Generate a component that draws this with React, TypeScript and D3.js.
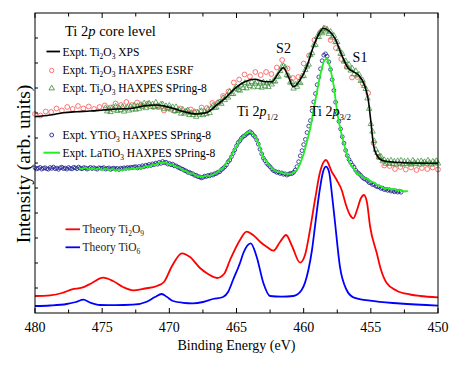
import * as d3 from "d3";

const width = 463;
const height = 367;
const margin = { top: 13, right: 25, bottom: 54, left: 35 };

// binding energy axis
const xDomain: [number, number] = [480, 450];
const xTickLabels = [480, 475, 470, 465, 460, 455, 450];

// Expt. Ti2O3 XPS (line) [eV, intensity]
const xpsTi2O3: [number, number][] = [
  [480, 196.3], [478.88, 198], [477.89, 200.3], [476.9, 201.3], [475.91, 202],
  [474.92, 203], [473.92, 204], [472.93, 204.5], [471.94, 207], [470.94, 208],
  [469.95, 205.5], [468.96, 201.5], [467.96, 199], [467.22, 200.5], [466.47, 208],
  [465.86, 214.7], [465.11, 224.7], [464.37, 231.3], [463.62, 233.7], [462.88, 231.3],
  [462.38, 231.3], [461.89, 239.7], [461.52, 245.3], [461.14, 236.3], [460.77, 226.3],
  [460.27, 233], [459.77, 246.3], [459.28, 266.3], [458.91, 278], [458.54, 284.7],
  [458.04, 281.3], [457.67, 274.7], [457.17, 258], [456.68, 244.7], [456.3, 241.3],
  [455.93, 238], [455.43, 226.3], [455.19, 213], [455.01, 193], [454.82, 169.7],
  [454.56, 158], [454.07, 152.3], [452.58, 150.3], [450, 149.7],
];

// Expt. Ti2O3 HAXPES ESRF (open circles), 480 eV downward in 0.4 eV steps
const esrfStart = 480;
const esrfStep = 0.4;
const esrfTi2O3 = [
  199, 197.5, 201.5, 201, 204.5, 202.5, 206, 204, 207, 204.5,
  206.5, 204, 206, 207.5, 205.5, 209.5, 208, 211, 208, 210.5,
  207.5, 209.5, 206, 206.5, 202.5, 205, 202, 204.5, 201.5, 203.5,
  201, 205.5, 205, 210, 210, 217, 221.5, 230.5, 233.5, 238.5,
  236.5, 241, 238, 241, 239, 245.5, 253, 244.5, 235, 236,
  249.5, 257.5, 273, 280, 284.5, 273, 265, 254, 246, 235.5,
  236, 229.5, 220, 170, 156, 147.5, 147, 144, 146, 143.5,
  145.5, 143, 145, 144, 145.5, 143.5,
];

// Expt. Ti2O3 HAXPES SPring-8 (open triangles), from 474.75 eV in 0.125 eV steps
const spring8Start = 474.75;
const spring8Step = 0.125;
const spring8Ti2O3 = [
  205, 201.7, 203.8, 201, 205.2, 203.4, 206.5, 202, 205, 203,
  206, 201.5, 204.5, 205.5, 202.5, 206.3, 203.6, 207.5, 203.4, 206.9,
  204.3, 208.3, 206.2, 209.8, 204.9, 208, 209.6, 206.2, 208.8, 205.9,
  210.5, 207.3, 205.5, 208.7, 208.8, 203.9, 207, 204.7, 207.4, 203.5,
  206, 202, 206, 202, 202.9, 199.4, 203.4, 199.5, 201.7, 202.8,
  198, 200.2, 198, 201.1, 196.3, 200.6, 198.4, 202.1, 197.9, 201.2,
  199, 203.5, 200, 204.8, 207.5, 205.3, 205.5, 210.4, 210.8, 209.2,
  215, 213, 217, 215.5, 221.5, 219.3, 219, 224.2, 225.8, 223.1,
  222.4, 227.7, 225, 230.1, 224.7, 229.4, 227, 231.2, 225.8, 229.3,
  230.8, 226.2, 229.5, 225.4, 230.7, 226.7, 229.7, 226, 230.7, 228.6,
  232, 231.5, 236.5, 236.3, 242, 246.5, 247, 245.5, 238, 237,
  230.5, 230.8, 224.5, 228.4, 226.3, 230.9, 230, 236.8, 237, 243,
  246.5, 248.5, 258, 259.9, 267.7, 268.2, 276.1, 276, 281.4, 279.8,
  284.7, 281.6, 283.5, 279.2, 281.3, 275.5, 277.2, 270.9, 271, 263.9,
  259.2, 259.1, 251.5, 251.9, 246.2, 248.4, 242.5, 244.4, 238.8, 242,
  237.6, 238.4, 232.2, 232.9, 227.1, 224.1, 214.6, 204.3, 189, 181.5,
  172, 163.3, 160, 155.5, 156.5, 151.8, 153, 149.3, 152, 149.5,
  152.5, 149, 151.5, 148.5, 152, 149.5, 152.5, 148.5, 151.5, 149,
  152, 150, 148.5, 152.5, 150.5, 149, 151.5, 148.5, 152, 150,
  151, 149, 152.5, 150.5, 148.5, 151.5, 150, 152, 149.5,
];

// Expt. YTiO3 HAXPES SPring-8 (open circles), from 480 eV in 0.125 eV steps
const ytioStart = 480;
const ytioStep = 0.125;
const ytio3 = [
  145.2, 144.1, 144.8, 145.6, 143.9, 144.7, 145.3, 144.2, 143.8, 145.5,
  144.6, 145.9, 144.3, 144.9, 143.7, 145.2, 145.8, 144.4, 144.9, 143.9,
  145.5, 144.6, 144.1, 145.7, 145.2, 144.3, 145.9, 144.8, 144.2, 145.4,
  145.1, 143.9, 144.7, 145.6, 144.4, 145.3, 144.5, 143.8, 145.2, 144.9,
  144.8, 145.4, 143.9, 144.6, 145.1, 143.6, 144.5, 144.9, 143.8, 144.7,
  143.5, 144.8, 144.3, 145.2, 144.6, 145.5, 144.9, 145.8, 145.4, 146.1,
  146.3, 145.1, 146.6, 145.5, 147.3, 146.2, 147.8, 146.9, 148.6, 147.5,
  149.2, 148.3, 149.9, 148.8, 150.7, 149.6, 151.5, 150.2, 150.8, 148.9,
  149.6, 148.2, 148.9, 147.1, 147.2, 145.9, 145.3, 144.2, 143.8, 142.6,
  142.1, 140.6, 140.7, 139.5, 139.2, 137.6, 137.8, 136.3, 136.2, 135.1,
  135.6, 136.9, 136.5, 137.6, 137.2, 138.4, 137.9, 139.3, 139.4, 140.9,
  141.2, 143.3, 144.6, 146.2, 148.1, 151.2, 152.9, 156.3, 159.6, 163.1,
  167.2, 170.4, 172.3, 174.8, 176.5, 177.4, 178.9, 180.2, 181.3, 180.1,
  177.9, 176.2, 173.1, 168.9, 163.8, 159.2, 154.9, 152.4, 149.6, 147.9,
  146.3, 144.2, 142.4, 141.8, 140.6, 140.9, 139.5, 140.1, 138.7, 139.2,
  137.9, 138.8, 139.6, 139.4, 140.7, 142.9, 146.4, 151.3, 157.2, 162.4,
  168.4, 173.6, 180.5, 186.9, 192.4, 202.3, 211.1, 219.4, 228.3, 236,
  244.2, 252.3, 257.8, 259.2, 256.7, 251.2, 243.5, 233.4, 222.6, 210.8,
  199.9, 191.6, 184.1, 176.3, 169.8, 162.6, 157.4, 153.5, 150.6, 147.9,
  145.9, 142.7, 140.5, 139.3, 137.6, 135.6, 134.3, 133.6, 132.3, 130.4,
  130.1, 128.4, 128.6, 126.9, 126.2, 126.1, 124.6, 124.9, 123.4, 123.8,
  122.6, 123.3, 121.9, 122.4, 121.2, 122.1, 120.9, 121.8, 120.7,
];

// Expt. LaTiO3 HAXPES SPring-8 (line), from 476.75 eV in 0.25 eV steps
const latioStart = 476.75;
const latioStep = 0.25;
const latio3 = [
  145, 144, 145.5, 143.5, 145, 143.5, 144.5, 143, 144.5, 143,
  144, 142.5, 143.5, 142.5, 144, 143.5, 145, 144, 145.5, 145,
  147, 146.5, 148.5, 148, 150.5, 150, 150.5, 148.5, 148.5, 146,
  145.5, 142.5, 142, 139.5, 139.5, 137, 136.5, 136, 137.5, 137,
  138.5, 140, 143, 145, 150, 153.5, 161, 166.5, 172.5, 177,
  180, 181.5, 178.5, 174, 165.5, 155, 151.5, 146.5, 143.5, 141.5,
  141, 139.5, 139.5, 139, 140.5, 143, 149.5, 159, 171.5, 185,
  204, 222, 239, 252, 255, 244, 226.5, 200, 182.5, 169,
  157, 148, 144.5, 138.5, 138, 135, 134.5, 131.5, 130.5, 127.5,
  127, 124.5, 125, 123.5, 124, 122.5, 123, 121.5, 122,
];

// Theory Ti2O9 (red line)
const theoryTi2O9: [number, number][] = [
  [480, 17], [478.88, 17.7], [477.99, 20], [477.25, 23.7], [476.5, 25.3],
  [475.76, 30], [474.94, 35.3], [474.19, 32], [473.45, 26], [472.7, 22.7],
  [471.81, 24.5], [470.92, 27], [470.4, 31], [469.8, 47], [469.06, 59.7],
  [468.46, 56], [467.72, 45], [467.12, 39], [466.45, 35], [465.93, 39],
  [465.48, 53], [464.74, 73], [464.24, 81.3], [463.77, 78], [463.25, 71.3],
  [462.73, 66], [462.26, 62.3], [461.76, 71], [461.31, 78], [460.87, 67],
  [460.27, 50.3], [459.9, 58], [459.53, 83], [459.16, 113], [458.78, 141],
  [458.34, 153], [457.91, 141.3], [457.54, 133], [457.17, 123], [456.85, 108],
  [456.55, 98], [456.3, 94.7], [456.03, 103], [455.73, 115], [455.51, 118],
  [455.28, 110], [455.06, 87], [454.56, 60], [454.24, 43], [453.82, 30],
  [453.07, 22.3], [452.08, 18.5], [451.34, 17], [450, 15.7],
];

// Theory TiO6 (blue line)
const theoryTiO6: [number, number][] = [
  [480, 7], [478.88, 7.5], [477.64, 9], [476.95, 11], [476.4, 13.3],
  [475.91, 10.5], [475.16, 8], [474.04, 7.8], [472.7, 8.3], [471.68, 11.3],
  [471.07, 16], [470.57, 19], [470.17, 16], [469.73, 12], [468.98, 10.2],
  [468.24, 9.7], [467.49, 11], [466.75, 14], [466, 16], [465.63, 21],
  [465.26, 33], [464.74, 50], [464.49, 60], [463.94, 69.7], [463.5, 56.3],
  [463, 30], [462.51, 17], [461.63, 16.3], [460.77, 17], [460.15, 23],
  [459.65, 43], [459.38, 63], [459.16, 86.3], [458.86, 118], [458.56, 141],
  [458.34, 146.3], [458.11, 141], [457.89, 118], [457.67, 91], [457.3, 46.3],
  [456.8, 23], [456.3, 15.7], [455.06, 12.3], [452.83, 9.5], [450, 7.3],
];

const serif = "'Liberation Serif', 'Times New Roman', Times, serif";

function sampled(start: number, step: number, vals: number[]): [number, number][] {
  return vals.map((v, i) => [start - i * step, v]);
}

// "Ti_2O_3" -> tspans with subscripts
function Chem({ text, sub = 7.5 }: { text: string; sub?: number }) {
  const parts = text.split(/(_\{[^}]*\}|_.)/).filter((p) => p !== "");
  let down = false;
  return (
    <>
      {parts.map((p, i) => {
        if (p.startsWith("_")) {
          const s = p.startsWith("_{") ? p.slice(2, -1) : p.slice(1);
          const dy = down ? 0 : 3;
          down = true;
          return (
            <tspan key={i} dy={dy} fontSize={sub}>
              {s}
            </tspan>
          );
        }
        const dy = down ? -3 : 0;
        down = false;
        return (
          <tspan key={i} dy={dy}>
            {p}
          </tspan>
        );
      })}
    </>
  );
}

export default function App() {
  const x = d3.scaleLinear().domain(xDomain).range([margin.left, width - margin.right]);
  const y = d3.scaleLinear().domain([0, 300]).range([height - margin.bottom, margin.top]);

  const smooth = d3
    .line<[number, number]>()
    .x((d) => x(d[0]))
    .y((d) => y(d[1]))
    .curve(d3.curveMonotoneX);
  const jagged = d3
    .line<[number, number]>()
    .x((d) => x(d[0]))
    .y((d) => y(d[1]));

  const tri = d3.symbol().type(d3.symbolTriangle).size(13)();

  const esrf = sampled(esrfStart, esrfStep, esrfTi2O3);
  const spring8 = sampled(spring8Start, spring8Step, spring8Ti2O3);
  const ytio = sampled(ytioStart, ytioStep, ytio3);
  const latio = sampled(latioStart, latioStep, latio3);

  const x0 = margin.left;
  const x1 = width - margin.right;
  const y0 = height - margin.bottom;
  const y1 = margin.top;

  const minorTicks = d3.range(480, 449, -2.5);
  const leftTicks = d3.range(25, 300, 25);

  return (
    <svg
      width={width}
      height={height}
      style={{ position: "fixed", left: 0, top: 0, background: "#fff", fontFamily: serif }}
    >
      {/* series */}
      <g fill="none">
        {esrf.map((d, i) => (
          <circle key={i} cx={x(d[0])} cy={y(d[1])} r={2.4} stroke="#ff4f4f" strokeWidth={0.8} />
        ))}
        {spring8.map((d, i) => (
          <path
            key={i}
            d={tri!}
            transform={`translate(${x(d[0])},${y(d[1])})`}
            stroke="#2f8a2f"
            strokeWidth={0.7}
          />
        ))}
        <path d={smooth(xpsTi2O3)!} stroke="#000" strokeWidth={1.6} />

        {ytio.map((d, i) => (
          <circle key={i} cx={x(d[0])} cy={y(d[1])} r={1.9} stroke="#1f1f8f" strokeWidth={0.8} />
        ))}
        <path d={jagged(latio)!} stroke="#22f022" strokeWidth={1.8} />

        <path d={smooth(theoryTi2O9)!} stroke="#ff0000" strokeWidth={1.8} />
        <path d={smooth(theoryTiO6)!} stroke="#0000ff" strokeWidth={1.8} />
      </g>

      {/* frame and ticks */}
      <rect x={x0} y={y1} width={x1 - x0} height={y0 - y1} fill="none" stroke="#000" strokeWidth={1} />
      <g stroke="#000" strokeWidth={1}>
        {minorTicks.map((t) => {
          const len = t % 5 === 0 ? 5 : 3.5;
          return (
            <g key={t}>
              <line x1={x(t)} x2={x(t)} y1={y0} y2={y0 - len} />
              <line x1={x(t)} x2={x(t)} y1={y1} y2={y1 + len} />
            </g>
          );
        })}
        {leftTicks.map((t) => (
          <line key={t} x1={x0} x2={x0 + 3} y1={y(t)} y2={y(t)} />
        ))}
      </g>
      <g fontSize={14} textAnchor="middle" fill="#000">
        {xTickLabels.map((t) => (
          <text key={t} x={x(t)} y={y0 + 19}>
            {t}
          </text>
        ))}
      </g>
      <text x={(x0 + x1) / 2} y={350} fontSize={14} textAnchor="middle">
        Binding Energy (eV)
      </text>
      <text
        transform={`translate(30,${(y0 + y1) / 2 + 1}) rotate(-90)`}
        fontSize={19.5}
        textAnchor="middle"
      >
        Intensity (arb. units)
      </text>

      {/* title and legends */}
      <text x={65} y={36} fontSize={14.5}>
        Ti 2<tspan fontStyle="italic">p</tspan> core level
      </text>
      <g fontSize={11.5}>
        <line x1={46.5} x2={60} y1={51.5} y2={51.5} stroke="#000" strokeWidth={1.8} />
        <text x={62.5} y={55.5}>
          <Chem text="Expt. Ti_2O_3 XPS" />
        </text>
        <circle cx={51.7} cy={70.5} r={2.2} fill="none" stroke="#ff4f4f" strokeWidth={0.8} />
        <text x={62.5} y={74}>
          <Chem text="Expt. Ti_2O_3 HAXPES ESRF" />
        </text>
        <path d={tri!} transform="translate(51.7,88.3)" fill="none" stroke="#2f8a2f" strokeWidth={0.8} />
        <text x={62.5} y={92}>
          <Chem text="Expt. Ti_2O_3 HAXPES SPring-8" />
        </text>

        <circle cx={51.7} cy={135} r={1.9} fill="none" stroke="#1f1f8f" strokeWidth={0.9} />
        <text x={62.5} y={138.5}>
          <Chem text="Expt. YTiO_3 HAXPES SPring-8" />
        </text>
        <line x1={43.5} x2={60} y1={152.7} y2={152.7} stroke="#22f022" strokeWidth={2} />
        <text x={62.5} y={156.5}>
          <Chem text="Expt. LaTiO_3 HAXPES SPring-8" />
        </text>

        <line x1={65.5} x2={80} y1={229.3} y2={229.3} stroke="#ff0000" strokeWidth={1.8} />
        <text x={82.5} y={233} fill="#222">
          <Chem text="Theory Ti_2O_9" />
        </text>
        <line x1={65.5} x2={80} y1={247.3} y2={247.3} stroke="#0000ff" strokeWidth={1.8} />
        <text x={82.5} y={251} fill="#222">
          <Chem text="Theory TiO_6" />
        </text>
      </g>

      {/* peak annotations */}
      <g fontSize={14}>
        <text x={283.5} y={53} textAnchor="middle">S2</text>
        <text x={360} y={62} textAnchor="middle">S1</text>
        <text x={237} y={116}>
          Ti 2<tspan fontStyle="italic">p</tspan>
          <tspan dy={3.5} fontSize={9}>1/2</tspan>
        </text>
        <text x={310} y={116}>
          Ti 2<tspan fontStyle="italic">p</tspan>
          <tspan dy={3.5} fontSize={9}>3/2</tspan>
        </text>
      </g>
    </svg>
  );
}
